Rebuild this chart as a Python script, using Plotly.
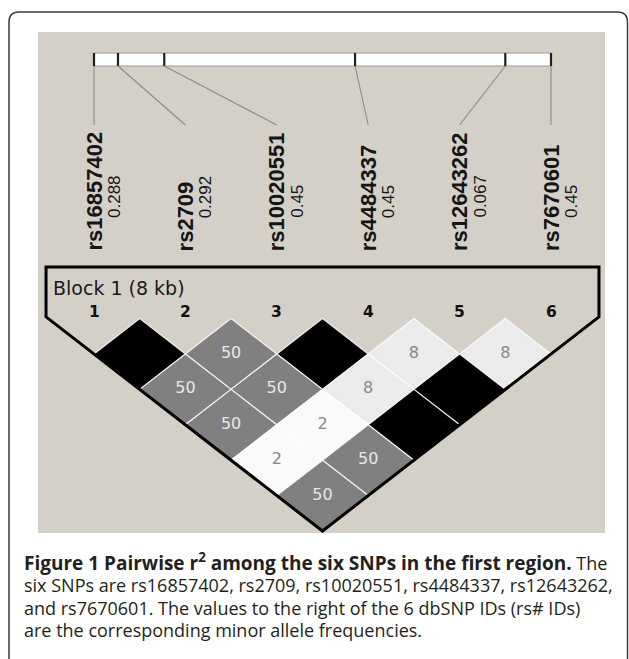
import plotly.graph_objects as go

# ---------------- data ----------------
snp_ids = ["rs16857402", "rs2709", "rs10020551", "rs4484337", "rs12643262", "rs7670601"]
maf = [0.288, 0.292, 0.45, 0.45, 0.067, 0.45]
positions_kb = [0.0, 0.42, 1.23, 4.57, 7.20, 8.0]
snp_numbers = [1, 2, 3, 4, 5, 6]
pair_i = [1, 2, 3, 4, 5, 1, 2, 3, 4, 1, 2, 3, 1, 2, 1]
pair_j = [2, 3, 4, 5, 6, 3, 4, 5, 6, 4, 5, 6, 5, 6, 6]
pair_r2 = [100, 50, 100, 8, 8, 50, 50, 8, 100, 50, 2, 100, 2, 50, 50]
block_label = "Block 1 (8 kb)"
caption_lines = [
    "<b><span style=\"font-size:19px\">Figure 1 Pairwise r<sup>2</sup> among the six SNPs in the first region.</span></b>"
    "<span style=\"font-size:18px\"> The</span>",
    "<span style=\"font-size:18px\">six SNPs are rs16857402, rs2709, rs10020551, rs4484337, rs12643262,</span>",
    "<span style=\"font-size:18px\">and rs7670601. The values to the right of the 6 dbSNP IDs (rs# IDs)</span>",
    "<span style=\"font-size:18px\">are the corresponding minor allele frequencies.</span>",
]

# ---------------- layout constants ----------------
W, H = 629, 659
X0, DX = 94.0, 91.4     # pixel of SNP 1 and pixel step per SNP
Y1, DY = 354.0, 35.4    # pixel of LD row 1 and pixel step per row
n = len(snp_ids)


def px(x):
    return x / W


def py(y):
    return 1 - y / H


def yrow(ypix):
    return (ypix - Y1) / DY + 1


fig = go.Figure()

# LD diamonds
for i, j, v in zip(pair_i, pair_j, pair_r2):
    cx = (i + j) / 2
    r = j - i
    g = round(255 * (1 - v / 100))
    fig.add_trace(go.Scatter(
        x=[cx - 0.5, cx, cx + 0.5, cx, cx - 0.5],
        y=[r, r - 1, r, r + 1, r],
        fill="toself", fillcolor=f"rgb({g},{g},{g})",
        mode="lines", line=dict(color="rgba(255,255,255,0.85)", width=1.2),
        hoverinfo="skip", showlegend=False))

# cell values (r2 < 100 only)
tx, ty, tt, tc = [], [], [], []
for i, j, v in zip(pair_i, pair_j, pair_r2):
    if v < 100:
        tx.append((i + j) / 2)
        ty.append(j - i)
        tt.append(str(v))
        tc.append("#e8e8e8" if v >= 30 else "#888888")
fig.add_trace(go.Scatter(
    x=tx, y=ty, text=tt, mode="text",
    textfont=dict(family="DejaVu Sans", size=16, color=tc),
    hoverinfo="skip", showlegend=False))

shapes = []
# outer rounded frame
R = 10
L, T, Rt = 9, 12, 627.5
path = (f"M {px(L)},{py(H + 5)} L {px(L)},{py(T + R)} Q {px(L)},{py(T)} {px(L + R)},{py(T)} "
        f"L {px(Rt - R)},{py(T)} Q {px(Rt)},{py(T)} {px(Rt)},{py(T + R)} L {px(Rt)},{py(H + 5)}")
shapes.append(dict(type="path", xref="paper", yref="paper", path=path,
                   line=dict(color="#3a3a3a", width=1.5), layer="below"))
# gray panel
shapes.append(dict(type="rect", xref="paper", yref="paper", x0=px(38), x1=px(605),
                   y0=py(533), y1=py(32), fillcolor="#d4d0c8", line=dict(width=0), layer="below"))

# physical map bar
span = positions_kb[-1] - positions_kb[0]
pos_x = [1 + (p - positions_kb[0]) / span * (n - 1) for p in positions_kb]
bar_top, bar_bot = 53, 66
shapes.append(dict(type="rect", xref="x", yref="paper", x0=pos_x[0], x1=pos_x[-1],
                   y0=py(bar_bot), y1=py(bar_top), fillcolor="white",
                   line=dict(color="#9a9a9a", width=1)))
for k, xp in enumerate(pos_x):
    shapes.append(dict(type="line", xref="x", yref="paper", x0=xp, x1=xp,
                       y0=py(bar_bot), y1=py(bar_top), line=dict(color="#202020", width=2.2)))
    shapes.append(dict(type="line", xref="x", yref="paper", x0=xp, x1=snp_numbers[k],
                       y0=py(bar_bot), y1=py(125), line=dict(color="#8a8a8a", width=1.1)))

# block outline
m = 0.525
ytop = yrow(267)
pts = [(1 - m, 1 - 2 * m), (1 - m, ytop), (n + m, ytop), (n + m, 1 - 2 * m), ((1 + n) / 2, n)]
opath = "M " + " L ".join(f"{a},{b}" for a, b in pts) + " Z"
shapes.append(dict(type="path", xref="x", yref="y", path=opath,
                   line=dict(color="black", width=3)))

annotations = []
for k in range(n):
    annotations.append(dict(x=snp_numbers[k], y=py(253), xref="x", yref="paper",
                            text=snp_ids[k], showarrow=False, textangle=-90,
                            xanchor="center", yanchor="bottom",
                            font=dict(family="Liberation Sans", size=22, color="#151515", weight="bold")))
    annotations.append(dict(x=snp_numbers[k] + 0.224, y=py(220), xref="x", yref="paper",
                            text=str(maf[k]), showarrow=False, textangle=-90,
                            xanchor="center", yanchor="bottom",
                            font=dict(family="Liberation Sans", size=17, color="#151515")))
    annotations.append(dict(x=snp_numbers[k], y=yrow(312), xref="x", yref="y",
                            text=f"<b>{snp_numbers[k]}</b>", showarrow=False,
                            xanchor="center", yanchor="middle",
                            font=dict(family="DejaVu Sans", size=15.5, color="#111111")))

annotations.append(dict(x=px(51), y=py(288), xref="paper", yref="paper", text=block_label,
                        showarrow=False, xanchor="left", yanchor="middle",
                        font=dict(family="DejaVu Sans", size=19, color="#1a1a1a")))

annotations.append(dict(x=px(22), y=py(594.5), xref="paper", yref="paper",
                        text="<br>".join(caption_lines),
                        showarrow=False, xanchor="left", yanchor="middle", align="left",
                        font=dict(family="Open Sans", size=17.3, color="#231f20")))

fig.update_layout(
    width=W, height=H, autosize=False,
    margin=dict(l=0, r=0, t=0, b=0),
    paper_bgcolor="white", plot_bgcolor="rgba(0,0,0,0)",
    xaxis=dict(range=[1 - X0 / DX, 1 + (W - X0) / DX], visible=False, fixedrange=True),
    yaxis=dict(range=[yrow(H), yrow(0)], visible=False, fixedrange=True),
    shapes=shapes, annotations=annotations, showlegend=False,
)

fig.write_html("out.html", config={"displayModeBar": False},
               post_script="document.body.style.margin='0';")
